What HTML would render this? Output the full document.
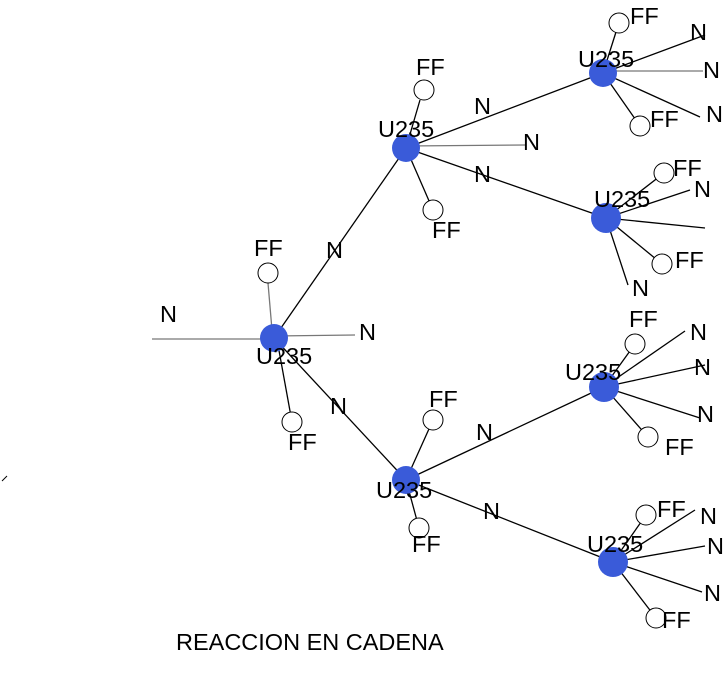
<!DOCTYPE html>
<html><head><style>body{margin:0;background:#fff}svg{display:block}text{font-family:"Liberation Sans",sans-serif;font-size:23.5px;fill:#000}</style></head><body>
<svg width="727" height="685" viewBox="0 0 727 685" xmlns="http://www.w3.org/2000/svg">
<g stroke="#000" stroke-width="1.3" fill="none">
<line x1="152" y1="339" x2="274" y2="339" stroke="#777"/>
<line x1="268" y1="283" x2="272" y2="330" stroke="#777"/>
<line x1="274" y1="336" x2="355" y2="335" stroke="#777"/>
<line x1="274" y1="338" x2="406" y2="148"/>
<line x1="278" y1="345" x2="292" y2="422"/>
<line x1="274" y1="338" x2="406" y2="480"/>
<line x1="406" y1="148" x2="603" y2="73"/>
<line x1="406" y1="146" x2="525" y2="145" stroke="#777"/>
<line x1="406" y1="148" x2="606" y2="218"/>
<line x1="420" y1="100" x2="406" y2="148"/>
<line x1="406" y1="148" x2="433" y2="210"/>
<line x1="603" y1="73" x2="705" y2="35"/>
<line x1="603" y1="71" x2="703" y2="71" stroke="#777"/>
<line x1="603" y1="73" x2="700" y2="117"/>
<line x1="616" y1="32" x2="603" y2="73"/>
<line x1="603" y1="73" x2="640" y2="126"/>
<line x1="606" y1="218" x2="664" y2="173"/>
<line x1="606" y1="218" x2="690" y2="190"/>
<line x1="606" y1="218" x2="705" y2="228"/>
<line x1="606" y1="218" x2="662" y2="264"/>
<line x1="606" y1="218" x2="628" y2="285"/>
<line x1="406" y1="480" x2="433" y2="420"/>
<line x1="406" y1="480" x2="419" y2="528"/>
<line x1="406" y1="480" x2="604" y2="387"/>
<line x1="406" y1="480" x2="613" y2="562"/>
<line x1="604" y1="387" x2="635" y2="344"/>
<line x1="604" y1="387" x2="685" y2="331"/>
<line x1="604" y1="387" x2="705" y2="365"/>
<line x1="604" y1="387" x2="700" y2="418"/>
<line x1="604" y1="387" x2="648" y2="437"/>
<line x1="613" y1="562" x2="646" y2="515"/>
<line x1="613" y1="562" x2="695" y2="510"/>
<line x1="613" y1="562" x2="705" y2="546"/>
<line x1="613" y1="562" x2="702" y2="592"/>
<line x1="613" y1="562" x2="656" y2="618"/>
<line x1="2" y1="481" x2="7" y2="476" stroke-width="1"/>
</g>
<g fill="#fff" stroke="#000" stroke-width="1">
<circle cx="268" cy="273" r="10"/><circle cx="292" cy="422" r="10"/>
<circle cx="424" cy="90" r="10"/><circle cx="433" cy="210" r="10"/>
<circle cx="619" cy="23" r="10"/><circle cx="640" cy="126" r="10"/>
<circle cx="664" cy="173" r="10"/><circle cx="662" cy="264" r="10"/>
<circle cx="433" cy="420" r="10"/><circle cx="419" cy="528" r="10"/>
<circle cx="635" cy="344" r="10"/><circle cx="648" cy="437" r="10"/>
<circle cx="646" cy="515" r="10"/><circle cx="656" cy="618" r="10"/>
</g>
<g fill="#3a5bd9">
<circle cx="274" cy="338" r="14"/><circle cx="406" cy="148" r="14"/>
<circle cx="603" cy="73" r="14"/><circle cx="606" cy="218" r="15"/>
<circle cx="406" cy="480" r="14"/><circle cx="604" cy="387" r="15"/>
<circle cx="613" cy="562" r="15"/>
</g>
<g>
<text x="160" y="322">N</text><text x="254" y="256">FF</text><text x="359" y="340">N</text>
<text x="256" y="364">U235</text><text x="326" y="258">N</text><text x="288" y="450">FF</text><text x="330" y="414">N</text>
<text x="378" y="137">U235</text><text x="416" y="75">FF</text><text x="474" y="114">N</text><text x="523" y="150">N</text><text x="474" y="182">N</text><text x="432" y="238">FF</text>
<text x="578" y="67">U235</text><text x="630" y="24">FF</text><text x="690" y="40">N</text><text x="703" y="78">N</text><text x="706" y="122">N</text><text x="650" y="127">FF</text>
<text x="594" y="207">U235</text><text x="673" y="176">FF</text><text x="694" y="197">N</text><text x="675" y="268">FF</text><text x="632" y="296">N</text>
<text x="376" y="498">U235</text><text x="429" y="407">FF</text><text x="412" y="552">FF</text><text x="476" y="440">N</text><text x="483" y="519">N</text>
<text x="565" y="380">U235</text><text x="629" y="327">FF</text><text x="690" y="340">N</text><text x="694" y="375">N</text><text x="697" y="422">N</text><text x="665" y="455">FF</text>
<text x="587" y="552">U235</text><text x="657" y="517">FF</text><text x="700" y="524">N</text><text x="707" y="554">N</text><text x="704" y="601">N</text><text x="662" y="628">FF</text>
<text x="176" y="650">REACCION EN CADENA</text>
</g>
</svg>
</body></html>
